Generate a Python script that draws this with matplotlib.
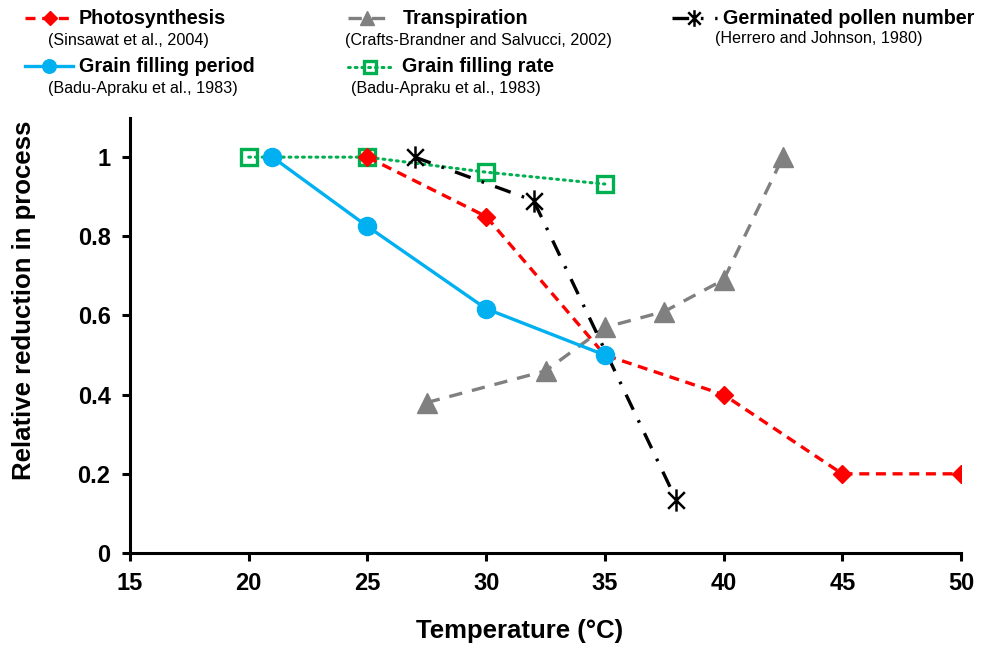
import matplotlib
matplotlib.use("Agg")
import matplotlib.pyplot as plt
from matplotlib.path import Path

plt.rcParams['font.family'] = ['Liberation Sans', 'DejaVu Sans']

# data
photo_t = [25, 30, 35, 40, 45, 50]
photo_v = [1.0, 0.85, 0.5, 0.4, 0.2, 0.2]

transp_t = [27.5, 32.5, 35, 37.5, 40, 42.5]
transp_v = [0.38, 0.46, 0.57, 0.61, 0.69, 1.0]

pollen_t = [27, 32, 38]
pollen_v = [1.0, 0.89, 0.135]

gfp_t = [21, 25, 30, 35]
gfp_v = [1.0, 0.825, 0.617, 0.5]

gfr_t = [20, 25, 30, 35]
gfr_v = [1.0, 1.0, 0.962, 0.932]

x_ticks = [15, 20, 25, 30, 35, 40, 45, 50]
y_ticks = [0, 0.2, 0.4, 0.6, 0.8, 1.0]
y_ticklabels = ['0', '0.2', '0.4', '0.6', '0.8', '1']

RED = '#FF0000'
GREY = '#808080'
BLUE = '#00B0F0'
GREEN = '#00B050'

# excel style star: vertical bar + an x
star = Path([(0, -1), (0, 1), (-0.75, -0.75), (0.75, 0.75), (-0.75, 0.75), (0.75, -0.75)],
            [Path.MOVETO, Path.LINETO] * 3)

# style for each series
styles = {
    'green': dict(color=GREEN, lw=2.2, ls=(0, (0.6, 1.6)), dash_capstyle='round',
                  marker='s', ms=12, mfc='none', mec=GREEN, mew=2.4),
    'grey': dict(color=GREY, lw=2.4, ls=(0, (4, 3)), marker='^', ms=14, mfc=GREY, mec=GREY),
    'black': dict(color='black', lw=2.4, ls=(0, (5, 3.5, 0.8, 3.5)), marker=star, ms=16, mec='black', mew=1.8),
    'red': dict(color=RED, lw=2.4, ls=(0, (3, 2)), marker='D', ms=9.5, mfc=RED, mec=RED),
    'blue': dict(color=BLUE, lw=2.4, ls='-', marker='o', ms=13, mfc=BLUE, mec=BLUE),
}

fig = plt.figure(figsize=(9.82, 6.48), dpi=100)
ax = fig.add_axes([0.1324, 0.1466, 0.8462, 0.672])

ax.plot(gfr_t, gfr_v, zorder=2, **styles['green'])
ax.plot(transp_t, transp_v, zorder=3, **styles['grey'])
ax.plot(pollen_t, pollen_v, zorder=4, **styles['black'])
ax.plot(photo_t, photo_v, zorder=5, **styles['red'])
ax.plot(gfp_t, gfp_v, zorder=6, **styles['blue'])

ax.set_xlim(15, 50)
ax.set_ylim(0, 1.1)
ax.set_xticks(x_ticks)
ax.set_yticks(y_ticks)
ax.set_yticklabels(y_ticklabels)
for s in ['top', 'right']:
    ax.spines[s].set_visible(False)
for s in ['left', 'bottom']:
    ax.spines[s].set_linewidth(2.2)
ax.tick_params(width=2.2, length=6, labelsize=17, pad=8)
for lab in ax.get_xticklabels() + ax.get_yticklabels():
    lab.set_fontweight('bold')
ax.set_xlabel('Temperature (°C)', fontsize=18.5, fontweight='bold', va='center')
ax.set_ylabel('Relative reduction in process', fontsize=18.5, fontweight='bold', va='center')
ax.xaxis.set_label_coords(0.469, -0.179)
ax.yaxis.set_label_coords(-0.128, 0.58)

# legend drawn by hand, in pixel coords
lg = fig.add_axes([0, 0, 1, 1], zorder=-1)
lg.set_xlim(0, 982)
lg.set_ylim(648, 0)
lg.axis('off')

entries = [
    ('red', 'Photosynthesis', '(Sinsawat et al., 2004)', 25, 75, 79, 18, 48, 40),
    ('blue', 'Grain filling period', '(Badu-Apraku et al., 1983)', 25, 73, 79, 66, 48, 88),
    ('grey', 'Transpiration', '(Crafts-Brandner and Salvucci, 2002)', 348, 386, 403, 18, 345, 40),
    ('green', 'Grain filling rate', '(Badu-Apraku et al., 1983)', 348, 393, 402, 67, 351, 89),
    ('black', 'Germinated pollen number', '(Herrero and Johnson, 1980)', 672, 717, 723, 18, 715, 39),
]
for key, name, cite, x0, x1, xt, yt, xc, yc in entries:
    st = dict(styles[key])
    st['ms'] = st['ms'] * 0.75
    lg.plot([x0, (x0 + x1) / 2, x1], [yt, yt, yt], markevery=[1], **st)
    lg.text(xt, yt, name, fontsize=14.2, fontweight='bold', va='center', ha='left')
    lg.text(xc, yc, cite, fontsize=11.6, va='center', ha='left')

fig.savefig('out.png', dpi=100)
